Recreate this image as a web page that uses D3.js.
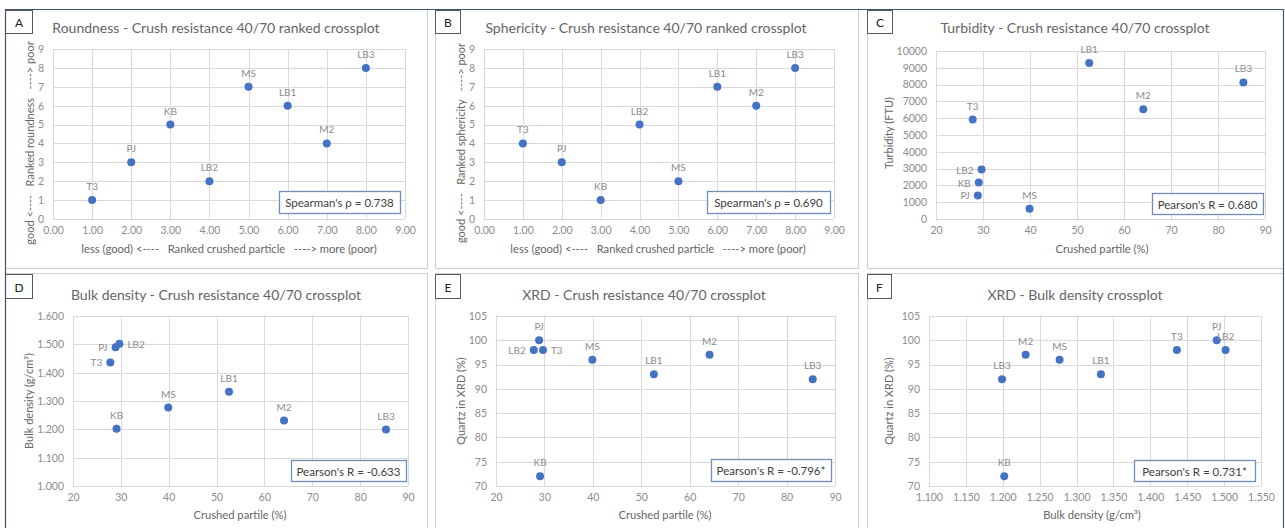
<!DOCTYPE html>
<html><head><meta charset="utf-8">
<script src="https://cdn.jsdelivr.net/npm/d3@7"></script>
<style>
body{margin:0;background:#fff}
svg text{font-family:Lato,"Open Sans","Liberation Sans",sans-serif}
</style>
</head><body><svg id="c" width="1285" height="528"></svg>
<script>
// ---------- data ----------
const samples = ["T3","PJ","KB","LB2","MS","LB1","M2","LB3"];
const rankCrushed = [1,2,3,4,5,6,7,8];
const rankRoundness = [1,3,5,2,7,6,4,8];
const rankSphericity = [4,3,1,5,2,7,6,8];
const crushed = [27.8,28.9,29.1,29.7,39.9,52.6,64.1,85.4];
const turbidity = [5920,1400,2170,2940,610,9280,6530,8130];
const bulkDensity = [1.436,1.490,1.202,1.502,1.277,1.333,1.231,1.199];
const quartzXRD = [98,100,72,98,96,93,97,92];

const panelLetters = ["A","B","C","D","E","F"];
const panelTitles = [
  "Roundness - Crush resistance 40/70 ranked crossplot",
  "Sphericity - Crush resistance 40/70 ranked crossplot",
  "Turbidity  - Crush resistance 40/70 crossplot",
  "Bulk density - Crush resistance 40/70 crossplot",
  "XRD - Crush resistance 40/70 crossplot",
  "XRD - Bulk density crossplot"
];
const xTitles = [
  "less (good) <----   Ranked crushed particle   ----> more (poor)",
  "less (good) <----   Ranked crushed particle   ----> more (poor)",
  "Crushed partile (%)",
  "Crushed partile (%)",
  "Crushed partile (%)",
  "Bulk density (g/cm³)"
];
const yTitles = [
  "good <----   Ranked roundness   ----> poor",
  "good <----   Ranked sphericity   ----> poor",
  "Turbidity (FTU)",
  "Bulk density (g/cm³)",
  "Quartz in XRD (%)",
  "Quartz in XRD (%)"
];
const statTexts = [
  "Spearman's ρ = 0.738",
  "Spearman's ρ = 0.690",
  "Pearson's R = 0.680",
  "Pearson's R = -0.633",
  "Pearson's R = -0.796*",
  "Pearson's R = 0.731*"
];
const rankTicks = [0,1,2,3,4,5,6,7,8,9];
const crushedTicks = [20,30,40,50,60,70,80,90];
const turbidityTicks = [0,1000,2000,3000,4000,5000,6000,7000,8000,9000,10000];
const bulkTicksY = [1.0,1.1,1.2,1.3,1.4,1.5,1.6];
const bulkTicksX = [1.10,1.15,1.20,1.25,1.30,1.35,1.40,1.45,1.50,1.55];
const xrdTicks = [70,75,80,85,90,95,100,105];

// label placement overrides (default: above)
const labelPosC = {LB2:"left", KB:"left", PJ:"left"};
const labelPosD = {PJ:"left", T3:"left", LB2:"right"};
const labelPosE = {LB2:{pos:"left", at:"T3"}, T3:{pos:"right", at:"LB2"}};

// ---------- layout ----------
const panels = [
  {x:rankCrushed, y:rankRoundness, xt:rankTicks, yt:rankTicks, xf:d3.format(".2f"), yf:d3.format("d"), lp:{},
   frame:[5,9,427,268], px:[53,405], py:[219,49], title:[216,27], box:[5,10,27,23], stat:[279,191,121,22], ytl:[29,143], xtl:[229,248]},
  {x:rankCrushed, y:rankSphericity, xt:rankTicks, yt:rankTicks, xf:d3.format(".2f"), yf:d3.format("d"), lp:{},
   frame:[435,9,858,268], px:[484,834], py:[219,49], title:[646,27], box:[435,10,25,23], stat:[707,191,123,22], ytl:[460,143], xtl:[658,248]},
  {x:crushed, y:turbidity, xt:crushedTicks, yt:turbidityTicks, xf:d3.format("d"), yf:d3.format("d"), lp:labelPosC,
   frame:[867,9,1283,268], px:[936,1265], py:[219,51], title:[1075,27], box:[867,10,25,23], stat:[1152,193,111,21], ytl:[888,133], xtl:[1102,248]},
  {x:crushed, y:bulkDensity, xt:crushedTicks, yt:bulkTicksY, xf:d3.format("d"), yf:d3.format(".3f"), lp:labelPosD,
   frame:[5,273,427,540], px:[73,408], py:[486,316], title:[216,294], box:[5,274,27,24], stat:[291,460,115,21], ytl:[28,401], xtl:[240,514]},
  {x:crushed, y:quartzXRD, xt:crushedTicks, yt:xrdTicks, xf:d3.format("d"), yf:d3.format("d"), lp:labelPosE,
   frame:[435,273,858,540], px:[496,835], py:[486,316], title:[644,294], box:[435,274,25,24], stat:[711,459,120,22], ytl:[460,401], xtl:[665,514]},
  {x:bulkDensity, y:quartzXRD, xt:bulkTicksX, yt:xrdTicks, xf:d3.format(".3f"), yf:d3.format("d"), lp:{},
   frame:[867,273,1283,540], px:[929,1261], py:[486,316], title:[1075,294], box:[867,274,24,24], stat:[1134,460,121,21], ytl:[888,401], xtl:[1092,514]}
];

const svg = d3.select("#c");
const GRID="#d9d9d9", TICK="#8c8c8c", TXT="#666666", DOT="#4472c4";

panels.forEach((p,i)=>{
  const g = svg.append("g");
  const [fx0,fy0,fx1,fy1] = p.frame;
  g.append("rect").attr("x",fx0+0.5).attr("y",fy0+0.5).attr("width",fx1-fx0).attr("height",fy1-fy0)
    .attr("fill","#fff").attr("stroke","#cfcfcf");
  const xs = d3.scaleLinear().domain(d3.extent(p.xt)).range(p.px);
  const ys = d3.scaleLinear().domain(d3.extent(p.yt)).range(p.py);

  // grid
  g.append("g").selectAll("line").data(p.xt).join("line")
    .attr("x1",d=>Math.round(xs(d))+0.5).attr("x2",d=>Math.round(xs(d))+0.5)
    .attr("y1",p.py[0]).attr("y2",p.py[1]).attr("stroke",GRID);
  g.append("g").selectAll("line").data(p.yt).join("line")
    .attr("y1",d=>Math.round(ys(d))+0.5).attr("y2",d=>Math.round(ys(d))+0.5)
    .attr("x1",p.px[0]).attr("x2",p.px[1]).attr("stroke",GRID);

  // axes (tick labels only)
  const xa = g.append("g").attr("transform",`translate(0,${p.py[0]})`)
    .call(d3.axisBottom(xs).tickValues(p.xt).tickFormat(p.xf).tickSize(0).tickPadding(8));
  const ya = g.append("g").attr("transform",`translate(${p.px[0]},0)`)
    .call(d3.axisLeft(ys).tickValues(p.yt).tickFormat(p.yf).tickSize(0).tickPadding(9));
  [xa,ya].forEach(a=>{
    a.select(".domain").remove();
    a.selectAll("text").attr("fill",TICK).style("font-size","10.5px");
  });

  // title
  g.append("text").attr("x",p.title[0]).attr("y",p.title[1]).attr("text-anchor","middle")
    .attr("dominant-baseline","central").attr("fill",TXT).style("font-size","14px").text(panelTitles[i]);
  // axis titles
  g.append("text").attr("x",p.xtl[0]).attr("y",p.xtl[1]).attr("text-anchor","middle")
    .attr("dominant-baseline","central").attr("fill",TXT).style("font-size","11.2px")
    .style("white-space","pre").text(xTitles[i]);
  g.append("text").attr("transform",`translate(${p.ytl[0]},${p.ytl[1]}) rotate(-90)`).attr("text-anchor","middle")
    .attr("dominant-baseline","central").attr("fill",TXT).style("font-size","11px")
    .style("white-space","pre").text(yTitles[i]);

  // letter box
  const [bx,by,bw,bh] = p.box;
  g.append("rect").attr("x",bx+0.5).attr("y",by+0.5).attr("width",bw).attr("height",bh)
    .attr("fill","#fff").attr("stroke","#595959");
  g.append("text").attr("x",bx+bw/2+0.5).attr("y",by+bh/2+1).attr("text-anchor","middle")
    .attr("dominant-baseline","central").attr("fill","#222").style("font-size","12px").text(panelLetters[i]);

  // stat box
  const [sx,sy,sw,sh] = p.stat;
  g.append("rect").attr("x",sx+0.5).attr("y",sy+0.5).attr("width",sw).attr("height",sh)
    .attr("fill","#fff").attr("stroke","#6f8fb8").attr("stroke-width",1.3);
  g.append("text").attr("x",sx+sw/2).attr("y",sy+sh/2+0.5).attr("text-anchor","middle")
    .attr("dominant-baseline","central").attr("fill","#404040").style("font-size","11.5px").text(statTexts[i]);

  // points
  const pts = samples.map((s,k)=>({s, x:p.x[k], y:p.y[k]}));
  const byName = Object.fromEntries(pts.map(d=>[d.s,d]));
  g.append("g").selectAll("circle").data(pts).join("circle")
    .attr("cx",d=>xs(d.x)).attr("cy",d=>ys(d.y)).attr("r",4).attr("fill",DOT);

  // labels
  g.append("g").selectAll("text").data(pts).join("text")
    .each(function(d){
      let lp = p.lp[d.s] || "above";
      let ref = d;
      if (typeof lp === "object"){ ref = byName[lp.at]; lp = lp.pos; }
      const cx = xs(ref.x), cy = ys(ref.y);
      const t = d3.select(this).attr("fill",TICK).style("font-size","10px").attr("dominant-baseline","central").text(d.s);
      if (lp==="left") t.attr("x",cx-8).attr("y",cy).attr("text-anchor","end");
      else if (lp==="right") t.attr("x",cx+8).attr("y",cy).attr("text-anchor","start");
      else t.attr("x",cx).attr("y",cy-14).attr("text-anchor","middle");
    });
});

// outer frame
svg.append("path").attr("d","M5.5,540 V9.5 H1283.5 V540").attr("fill","none").attr("stroke","#44546a").attr("stroke-width",1.2);
</script>
</body></html>
